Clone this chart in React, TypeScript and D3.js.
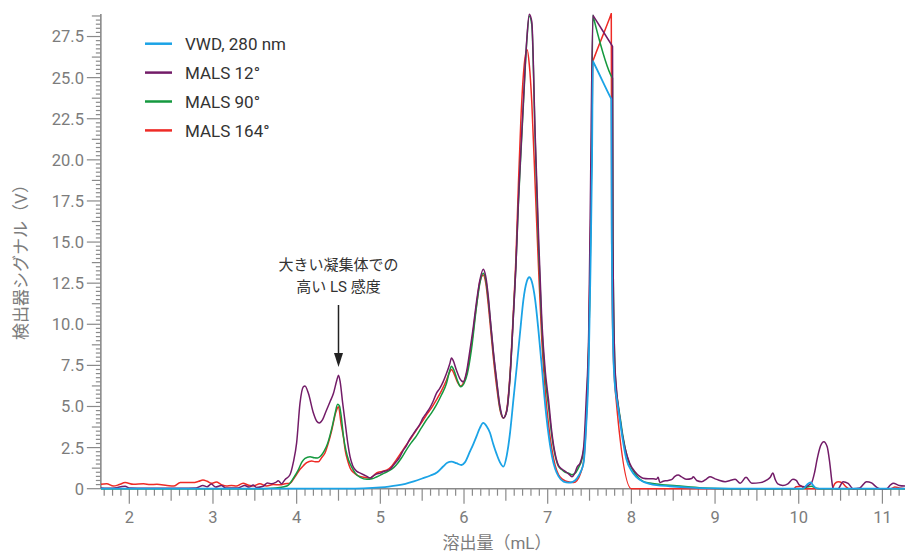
import React from 'react';
import * as d3 from 'd3';

type P = [number, number];

const seriesNames = ['VWD, 280 nm', 'MALS 12°', 'MALS 90°', 'MALS 164°'];
const seriesColors = ['#1ba3e6', '#731c68', '#15993f', '#ee2b26'];

const vwd280: P[] = [
  [1.66, 0], [4.6, 0], [4.8, 0.02], [5.0, 0.08], [5.1, 0.13], [5.2, 0.2], [5.3, 0.3], [5.4, 0.45], [5.5, 0.62],
  [5.6, 0.8], [5.68, 1.0], [5.75, 1.35], [5.8, 1.58], [5.85, 1.65], [5.91, 1.55], [5.97, 1.44], [6.01, 1.6],
  [6.07, 2.25], [6.11, 2.7], [6.15, 3.2], [6.19, 3.7], [6.23, 4.0], [6.27, 3.8], [6.31, 3.4], [6.35, 2.7],
  [6.39, 2.1], [6.43, 1.6], [6.47, 1.34], [6.51, 2.0], [6.55, 3.4], [6.59, 5.4], [6.63, 7.4], [6.67, 9.5],
  [6.71, 11.5], [6.75, 12.6], [6.78, 12.86], [6.81, 12.6], [6.85, 11.5], [6.89, 9.6], [6.93, 7.4], [6.97, 5.1],
  [7.01, 3.3], [7.05, 2.0], [7.09, 1.2], [7.13, 0.75], [7.19, 0.43], [7.25, 0.37], [7.3, 0.42], [7.35, 0.63],
  [7.40, 1.1], [7.43, 1.6], [7.46, 3.8], [7.49, 7.5], [7.51, 13.0], [7.53, 20], [7.54, 26.0], [7.545, 25.95],
  [7.755, 23.75], [7.76, 23.7], [7.765, 16], [7.78, 9], [7.80, 6.5], [7.83, 5.3], [7.86, 4.3], [7.89, 3.2],
  [7.94, 1.8], [8.0, 1.1], [8.06, 0.7], [8.14, 0.43], [8.22, 0.3], [8.30, 0.22], [8.46, 0.15], [8.7, 0.07],
  [9.0, 0.02], [9.3, 0], [10.05, 0], [10.1, 0.25], [10.14, 0.38], [10.18, 0.15], [10.22, 0], [11.27, 0],
];

const mals12: P[] = [
  [1.66, 0.05], [1.8, 0.03], [1.9, 0.12], [1.95, 0.15], [2.0, 0.05], [2.2, 0.02], [2.5, 0.03], [2.8, 0.05],
  [2.88, 0.2], [2.93, 0.12], [2.98, 0.28], [3.03, 0.1], [3.1, 0.2], [3.15, 0.05], [3.3, 0.05], [3.38, 0.2],
  [3.43, 0.1], [3.48, 0.22], [3.52, 0.08], [3.6, 0.15], [3.65, 0.35], [3.7, 0.3], [3.75, 0.38], [3.78, 0.48],
  [3.82, 0.3], [3.86, 0.55], [3.92, 0.85], [3.96, 1.6], [4.0, 2.8], [4.04, 5.2], [4.08, 6.2], [4.1, 6.25],
  [4.14, 5.8], [4.2, 4.6], [4.24, 4.1], [4.27, 4.0], [4.31, 4.2], [4.35, 4.7], [4.4, 5.3], [4.44, 5.8],
  [4.48, 6.6], [4.5, 6.9], [4.52, 6.5], [4.55, 5.2], [4.58, 4.0], [4.61, 2.8], [4.64, 1.9], [4.67, 1.4],
  [4.72, 1.05], [4.76, 0.95], [4.8, 0.85], [4.84, 0.75], [4.88, 0.65], [4.92, 0.8], [4.96, 0.9], [5.0, 0.95],
  [5.04, 1.05], [5.08, 1.1], [5.12, 1.2], [5.16, 1.45], [5.19, 1.64], [5.23, 1.9], [5.27, 2.3], [5.31, 2.6],
  [5.35, 3.0], [5.39, 3.3], [5.43, 3.6], [5.47, 3.9], [5.51, 4.3], [5.55, 4.6], [5.59, 4.9], [5.63, 5.3],
  [5.67, 5.8], [5.71, 6.1], [5.75, 6.5], [5.79, 7.0], [5.83, 7.6], [5.85, 7.95], [5.87, 7.8], [5.91, 7.2],
  [5.95, 6.7], [5.99, 6.5], [6.03, 7.1], [6.07, 8.4], [6.11, 9.8], [6.15, 11.4], [6.19, 12.7], [6.23, 13.35],
  [6.26, 12.9], [6.29, 11.7], [6.32, 10.0], [6.35, 8.4], [6.39, 6.6], [6.43, 5.0], [6.47, 4.3], [6.51, 4.7],
  [6.55, 6.8], [6.59, 10.5], [6.62, 13.5], [6.65, 17.5], [6.67, 19.6], [6.71, 23.6], [6.75, 27.3], [6.78, 28.85],
  [6.81, 28.4], [6.85, 21.6], [6.89, 15.5], [6.93, 10.2], [6.97, 7.2], [7.01, 5.4], [7.05, 3.4], [7.09, 2.1],
  [7.13, 1.4], [7.17, 1.2], [7.21, 1.05], [7.25, 0.9], [7.29, 0.73], [7.32, 0.9], [7.35, 1.3], [7.39, 1.6],
  [7.43, 2.55], [7.46, 5.4], [7.49, 9.5], [7.51, 17.5], [7.54, 28.8], [7.545, 28.76], [7.77, 26.94], [7.775, 26.9],
  [7.78, 15], [7.80, 8], [7.82, 6.2], [7.86, 4.4], [7.92, 2.55], [7.98, 1.55], [8.04, 1.05], [8.1, 0.75],
  [8.14, 0.63], [8.2, 0.6], [8.26, 0.6], [8.3, 0.57], [8.32, 0.7], [8.34, 0.37], [8.38, 0.45], [8.42, 0.49],
  [8.48, 0.55], [8.52, 0.75], [8.56, 0.83], [8.6, 0.72], [8.66, 0.57], [8.72, 0.62], [8.74, 0.72], [8.78, 0.5],
  [8.84, 0.43], [8.9, 0.6], [8.94, 0.73], [9.0, 0.6], [9.04, 0.53], [9.12, 0.43], [9.18, 0.5], [9.24, 0.57],
  [9.3, 0.33], [9.37, 0.69], [9.44, 0.33], [9.54, 0.37], [9.62, 0.53], [9.66, 0.7], [9.69, 0.95], [9.72, 0.55],
  [9.75, 0.29], [9.81, 0.2], [9.87, 0.3], [9.93, 0.57], [9.97, 0.5], [10.01, 0.22], [10.07, 0.12], [10.15, 0.33],
  [10.19, 1.0], [10.22, 1.8], [10.26, 2.6], [10.3, 2.86], [10.34, 2.55], [10.37, 1.6], [10.4, 0.3], [10.41, 0.02],
  [10.47, 0.0], [10.53, 0.43], [10.59, 0.33], [10.65, 0.0], [10.73, 0.05], [10.81, 0.43], [10.87, 0.35],
  [10.93, 0.1], [10.97, 0.0], [11.05, 0.0], [11.1, 0.25], [11.13, 0.33], [11.2, 0.2], [11.27, 0.16],
];

const mals90: P[] = [
  [1.66, 0], [3.6, 0], [3.75, 0.05], [3.85, 0.12], [3.9, 0.22], [3.96, 0.63], [4.02, 1.14], [4.06, 1.6],
  [4.1, 1.85], [4.16, 1.95], [4.21, 1.88], [4.25, 1.87], [4.29, 2.0], [4.33, 2.3], [4.37, 2.75], [4.40, 3.27],
  [4.43, 3.9], [4.46, 4.6], [4.49, 5.13], [4.51, 5.05], [4.53, 4.5], [4.56, 3.16], [4.59, 2.3], [4.62, 1.75],
  [4.66, 1.3], [4.7, 0.95], [4.76, 0.69], [4.84, 0.57], [4.9, 0.6], [4.96, 0.73], [5.02, 0.88], [5.08, 1.03],
  [5.14, 1.2], [5.19, 1.44], [5.25, 1.85], [5.31, 2.35], [5.37, 2.8], [5.43, 3.2], [5.49, 3.7], [5.55, 4.18],
  [5.61, 4.6], [5.67, 5.1], [5.73, 5.7], [5.79, 6.4], [5.83, 7.2], [5.85, 7.45], [5.88, 7.2], [5.92, 6.6],
  [5.96, 6.2], [6.0, 6.4], [6.04, 7.0], [6.09, 8.5], [6.15, 11.1], [6.19, 12.5], [6.23, 13.1], [6.26, 12.7],
  [6.29, 11.5], [6.32, 9.9], [6.35, 8.3], [6.39, 6.5], [6.43, 4.9], [6.47, 4.3], [6.51, 4.7], [6.55, 6.8],
  [6.59, 10.5], [6.62, 13.5], [6.65, 17.3], [6.67, 19.4], [6.71, 23.4], [6.75, 27.2], [6.78, 28.75], [6.81, 28.2],
  [6.85, 21.3], [6.89, 14.8], [6.93, 9.8], [6.97, 6.8], [7.01, 5.0], [7.05, 3.2], [7.09, 2.0], [7.13, 1.35],
  [7.17, 1.15], [7.21, 1.0], [7.25, 0.95], [7.29, 0.85], [7.33, 0.95], [7.37, 1.3], [7.41, 1.8], [7.44, 2.8],
  [7.47, 5.5], [7.50, 11], [7.52, 18], [7.54, 28.8], [7.545, 28.7], [7.77, 25.0], [7.775, 24.96], [7.78, 15],
  [7.80, 8], [7.82, 6.0], [7.84, 5.2], [7.87, 4.2], [7.9, 3.16], [7.96, 1.75], [8.04, 0.94], [8.14, 0.45],
  [8.22, 0.35], [8.3, 0.28], [8.54, 0.18], [8.85, 0.05], [9.2, 0.0], [10.05, 0], [10.1, 0.1], [10.15, 0.15],
  [10.2, 0.05], [10.25, 0], [11.27, 0],
];

const mals164: P[] = [
  [1.66, 0.27], [1.73, 0.3], [1.81, 0.16], [1.88, 0.25], [1.95, 0.37], [2.05, 0.27], [2.17, 0.3], [2.25, 0.25],
  [2.33, 0.27], [2.45, 0.2], [2.53, 0.16], [2.61, 0.37], [2.7, 0.38], [2.76, 0.37], [2.83, 0.45], [2.88, 0.53],
  [2.93, 0.45], [2.98, 0.33], [3.04, 0.4], [3.1, 0.25], [3.16, 0.16], [3.22, 0.2], [3.28, 0.16], [3.36, 0.33],
  [3.42, 0.22], [3.48, 0.16], [3.56, 0.3], [3.64, 0.16], [3.72, 0.25], [3.8, 0.24], [3.86, 0.3], [3.92, 0.33],
  [3.98, 0.73], [4.04, 1.18], [4.08, 1.4], [4.12, 1.58], [4.18, 1.68], [4.22, 1.64], [4.26, 1.64], [4.3, 1.9],
  [4.34, 2.19], [4.38, 2.8], [4.42, 3.57], [4.47, 4.68], [4.5, 4.99], [4.53, 3.97], [4.56, 3.1], [4.58, 2.35],
  [4.61, 1.7], [4.64, 1.24], [4.68, 0.98], [4.72, 0.83], [4.8, 0.69], [4.88, 0.65], [4.92, 0.8], [4.96, 0.97],
  [5.02, 1.05], [5.08, 1.14], [5.14, 1.4], [5.19, 1.75], [5.25, 2.2], [5.31, 2.66], [5.37, 3.1], [5.43, 3.57],
  [5.49, 4.0], [5.55, 4.48], [5.61, 4.9], [5.67, 5.4], [5.73, 5.95], [5.79, 6.6], [5.83, 7.1], [5.85, 7.25],
  [5.88, 7.0], [5.92, 6.5], [5.96, 6.25], [6.0, 6.5], [6.04, 7.2], [6.09, 8.8], [6.15, 11.2], [6.19, 12.6],
  [6.23, 13.0], [6.26, 12.5], [6.29, 11.2], [6.32, 9.6], [6.35, 8.0], [6.39, 6.2], [6.43, 4.8], [6.47, 4.3],
  [6.51, 4.8], [6.55, 7.0], [6.59, 10.8], [6.62, 14.0], [6.65, 18.5], [6.68, 22.5], [6.72, 25.8], [6.755, 26.7],
  [6.78, 25.8], [6.81, 23.5], [6.85, 18.5], [6.89, 13.5], [6.93, 9.0], [6.97, 6.0], [7.01, 3.9], [7.05, 2.4],
  [7.09, 1.4], [7.13, 0.85], [7.17, 0.6], [7.21, 0.48], [7.27, 0.4], [7.31, 0.37], [7.35, 0.5], [7.39, 0.9],
  [7.43, 1.7], [7.46, 4.0], [7.49, 8.5], [7.51, 15], [7.53, 22], [7.54, 26.0], [7.545, 26.07], [7.755, 28.83],
  [7.76, 28.9], [7.765, 15], [7.78, 9], [7.80, 6.5], [7.82, 5.3], [8.0, 0], [9.94, 0], [9.97, 0.12],
  [10.03, 0.15], [10.07, 0], [10.4, 0], [10.43, 0.3], [10.47, 0.43], [10.52, 0.35], [10.57, 0.1], [10.6, 0],
  [11.1, 0], [11.15, 0.1], [11.2, 0.05], [11.27, 0],
];

const seriesData: P[][] = [vwd280, mals12, mals90, mals164];
const drawOrder = [3, 2, 1, 0];

const xMajorTicks = [2, 3, 4, 5, 6, 7, 8, 9, 10, 11];
const yMajorTicks = [0, 2.5, 5, 7.5, 10, 12.5, 15, 17.5, 20, 22.5, 25, 27.5];
const yTickLabels = ['0', '2.5', '5.0', '7.5', '10.0', '12.5', '15.0', '17.5', '20.0', '22.5', '25.0', '27.5'];

const xTitle = '溶出量（mL）';
const yTitle = '検出器シグナル（V）';
const noteLines = ['大きい凝集体での', '高い LS 感度'];
const noteX = 4.5;

const FONT = "Roboto, 'Noto Sans CJK JP', sans-serif";
const AXIS = '#8a8a8a';
const LABEL = '#7c7c7c';

export default function App() {
  const x = d3.scaleLinear().domain([1.66, 11.27]).range([100.85, 905]);
  const y = d3.scaleLinear().domain([0, 28.87]).range([488.7, 14]);
  const line = d3.line<P>().x(d => x(d[0])).y(d => y(d[1])).curve(d3.curveMonotoneX);

  const xMinor = d3.range(17, 113).map(i => i / 10);
  const yMinor = d3.range(0, 116).map(i => i * 0.25);
  const y0 = y(0);
  const axisX = x(1.66);

  return (
    <svg width={912} height={554} style={{ position: 'absolute', left: 0, top: 0, fontFamily: FONT }}>
      <defs>
        <clipPath id="plot">
          <rect x={x(1.66)} y={y(28.87) - 1} width={x(11.27) - x(1.66)} height={y(0) - y(28.87) + 3} />
        </clipPath>
      </defs>

      {/* x ticks */}
      {xMinor.map((v, i) => {
        const r = Math.round(v * 10);
        const len = r % 10 === 0 ? 15 : r % 5 === 0 ? 12 : 7;
        return <line key={'xt' + i} x1={x(v)} x2={x(v)} y1={y0} y2={y0 + len} stroke={AXIS} strokeWidth={1.2} />;
      })}
      {xMajorTicks.map(v => (
        <text key={'xl' + v} x={x(v)} y={522.7} textAnchor="middle" fontSize={16.5} fill={LABEL}>{v}</text>
      ))}

      {/* y ticks */}
      {yMinor.filter(v => v <= 28.87).map((v, i) => {
        const r = Math.round(v * 4);
        const len = r % 10 === 0 ? 14 : r % 5 === 0 ? 9 : 5;
        return <line key={'yt' + i} x1={axisX - len} x2={axisX} y1={y(v)} y2={y(v)} stroke={AXIS} strokeWidth={1.2} />;
      })}
      {yMajorTicks.map((v, i) => (
        <text key={'yl' + v} x={84} y={y(v)} dy="0.36em" textAnchor="end" fontSize={16.5} fill={LABEL}>{yTickLabels[i]}</text>
      ))}

      {/* axis lines */}
      <line x1={axisX} x2={axisX} y1={y(28.87)} y2={y0} stroke={AXIS} strokeWidth={1.6} />
      <line x1={axisX} x2={x(11.27)} y1={y0} y2={y0} stroke={AXIS} strokeWidth={1.6} />

      {/* series */}
      <g clipPath="url(#plot)">
        {drawOrder.map(i => (
          <path key={'s' + i} d={line(seriesData[i]) || ''} fill="none" stroke={seriesColors[i]}
            strokeWidth={i === 0 ? 1.8 : 1.5} strokeLinejoin="round" />
        ))}
      </g>

      {/* titles */}
      <text x={497} y={549} textAnchor="middle" fontSize={17} fill={LABEL}>{xTitle}</text>
      <text transform={`translate(21.5,258) rotate(-90)`} textAnchor="middle" dy="0.35em" fontSize={17} fill={LABEL}>{yTitle}</text>

      {/* legend */}
      {seriesNames.map((name, i) => {
        const ly = 43.7 + i * 28.9;
        return (
          <g key={'lg' + i}>
            <line x1={145} x2={172} y1={ly} y2={ly} stroke={seriesColors[i]} strokeWidth={2.5} />
            <text x={185} y={ly} dy="0.36em" fontSize={17} fill="#333">{name}</text>
          </g>
        );
      })}

      {/* annotation */}
      {noteLines.map((t, i) => (
        <text key={'n' + i} x={x(noteX)} y={265 + i * 22} dy="0.36em" textAnchor="middle" fontSize={15} fill="#333">{t}</text>
      ))}
      <line x1={x(noteX)} x2={x(noteX)} y1={305} y2={356} stroke="#222" strokeWidth={1.5} />
      <path d={`M${x(noteX) - 4.5},${353} L${x(noteX) + 4.5},${353} L${x(noteX)},${367} Z`} fill="#222" />
    </svg>
  );
}
